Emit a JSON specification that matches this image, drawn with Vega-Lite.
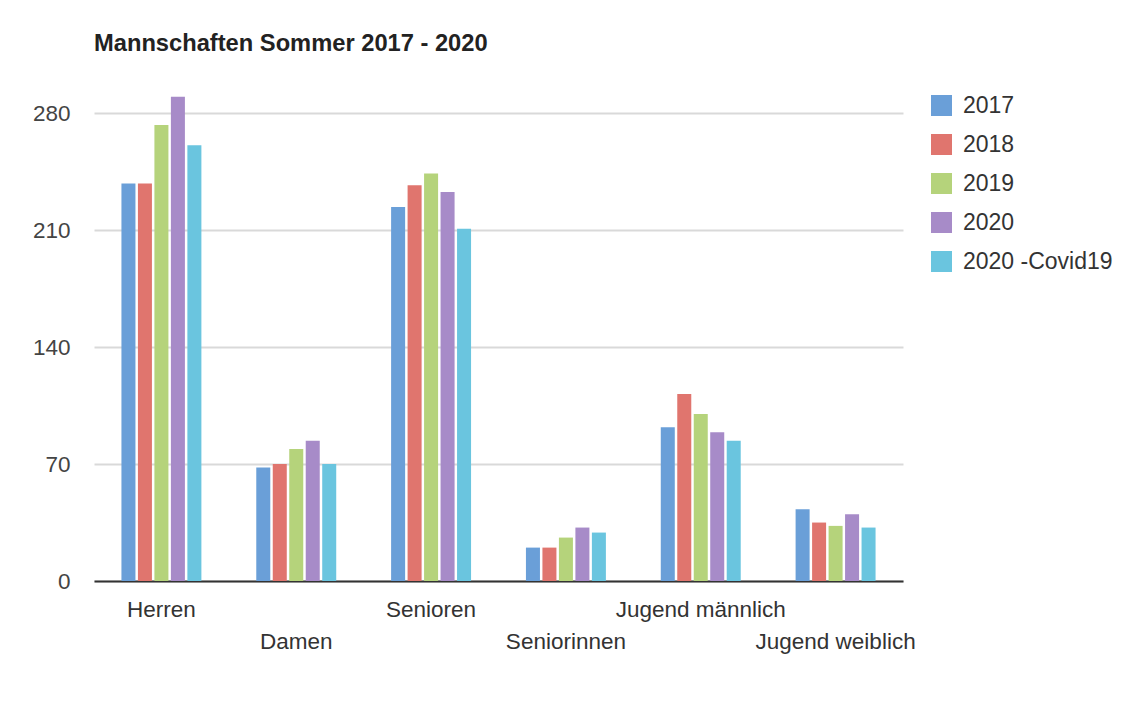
{
  "$schema": "https://vega.github.io/schema/vega-lite/v6.json",
  "width": 809,
  "height": 501,
  "autosize": {"type": "none"},
  "padding": {"left": 94, "top": 80, "right": 227, "bottom": 136},
  "background": "white",
  "title": {"text": "Mannschaften Sommer 2017 - 2020", "anchor": "start", "frame": "group", "font": "Liberation Sans", "fontSize": 23.7, "fontWeight": "bold", "color": "#222222", "offset": 24},
  "data": {"values": [
    {"Mannschaft": "Herren", "Jahr": "2017", "Anzahl": 238},
    {"Mannschaft": "Herren", "Jahr": "2018", "Anzahl": 238},
    {"Mannschaft": "Herren", "Jahr": "2019", "Anzahl": 273},
    {"Mannschaft": "Herren", "Jahr": "2020", "Anzahl": 290},
    {"Mannschaft": "Herren", "Jahr": "2020 -Covid19", "Anzahl": 261},
    {"Mannschaft": "Damen", "Jahr": "2017", "Anzahl": 68},
    {"Mannschaft": "Damen", "Jahr": "2018", "Anzahl": 70},
    {"Mannschaft": "Damen", "Jahr": "2019", "Anzahl": 79},
    {"Mannschaft": "Damen", "Jahr": "2020", "Anzahl": 84},
    {"Mannschaft": "Damen", "Jahr": "2020 -Covid19", "Anzahl": 70},
    {"Mannschaft": "Senioren", "Jahr": "2017", "Anzahl": 224},
    {"Mannschaft": "Senioren", "Jahr": "2018", "Anzahl": 237},
    {"Mannschaft": "Senioren", "Jahr": "2019", "Anzahl": 244},
    {"Mannschaft": "Senioren", "Jahr": "2020", "Anzahl": 233},
    {"Mannschaft": "Senioren", "Jahr": "2020 -Covid19", "Anzahl": 211},
    {"Mannschaft": "Seniorinnen", "Jahr": "2017", "Anzahl": 20},
    {"Mannschaft": "Seniorinnen", "Jahr": "2018", "Anzahl": 20},
    {"Mannschaft": "Seniorinnen", "Jahr": "2019", "Anzahl": 26},
    {"Mannschaft": "Seniorinnen", "Jahr": "2020", "Anzahl": 32},
    {"Mannschaft": "Seniorinnen", "Jahr": "2020 -Covid19", "Anzahl": 29},
    {"Mannschaft": "Jugend männlich", "Jahr": "2017", "Anzahl": 92},
    {"Mannschaft": "Jugend männlich", "Jahr": "2018", "Anzahl": 112},
    {"Mannschaft": "Jugend männlich", "Jahr": "2019", "Anzahl": 100},
    {"Mannschaft": "Jugend männlich", "Jahr": "2020", "Anzahl": 89},
    {"Mannschaft": "Jugend männlich", "Jahr": "2020 -Covid19", "Anzahl": 84},
    {"Mannschaft": "Jugend weiblich", "Jahr": "2017", "Anzahl": 43},
    {"Mannschaft": "Jugend weiblich", "Jahr": "2018", "Anzahl": 35},
    {"Mannschaft": "Jugend weiblich", "Jahr": "2019", "Anzahl": 33},
    {"Mannschaft": "Jugend weiblich", "Jahr": "2020", "Anzahl": 40},
    {"Mannschaft": "Jugend weiblich", "Jahr": "2020 -Covid19", "Anzahl": 32}
  ]},
  "mark": {"type": "bar"},
  "encoding": {
    "x": {
      "field": "Mannschaft", "type": "nominal",
      "sort": ["Herren", "Damen", "Senioren", "Seniorinnen", "Jugend männlich", "Jugend weiblich"],
      "scale": {"paddingInner": 0.407, "paddingOuter": 0.2035},
      "axis": {
        "title": null, "labelAngle": 0, "ticks": false, "grid": false,
        "domainColor": "#333333", "domainWidth": 2,
        "labelFont": "Liberation Sans", "labelFontSize": 22.5, "labelColor": "#333333",
        "labelBaseline": "middle",
        "labelPadding": {"condition": {"test": "indexof(['Damen','Seniorinnen','Jugend weiblich'], datum.value) >= 0", "value": 60}, "value": 28},
        "labelOverlap": false, "labelBound": false, "labelLimit": 0
      }
    },
    "xOffset": {
      "field": "Jahr", "type": "nominal",
      "sort": ["2017", "2018", "2019", "2020", "2020 -Covid19"],
      "scale": {"paddingInner": 0.15, "paddingOuter": 0}
    },
    "y": {
      "field": "Anzahl", "type": "quantitative",
      "scale": {"domain": [0, 300], "nice": false},
      "axis": {
        "title": null, "values": [0, 70, 140, 210, 280], "domain": false, "ticks": false,
        "gridColor": "#d9d9d9", "gridWidth": 2,
        "labelFont": "Liberation Sans", "labelFontSize": 22.5, "labelColor": "#444444", "labelPadding": 24
      }
    },
    "color": {
      "field": "Jahr", "type": "nominal",
      "scale": {"domain": ["2017", "2018", "2019", "2020", "2020 -Covid19"], "range": ["#6a9fd8", "#e0756e", "#b5d37b", "#a78bc8", "#6ac5df"]},
      "legend": {
        "title": null, "orient": "none", "legendX": 836, "legendY": 14,
        "symbolType": "square", "symbolSize": 441, "symbolStrokeWidth": 0,
        "labelFont": "Liberation Sans", "labelFontSize": 23, "labelColor": "#333333",
        "rowPadding": 15, "labelOffset": 10, "padding": 0
      }
    }
  },
  "config": {"view": {"stroke": null}}
}
